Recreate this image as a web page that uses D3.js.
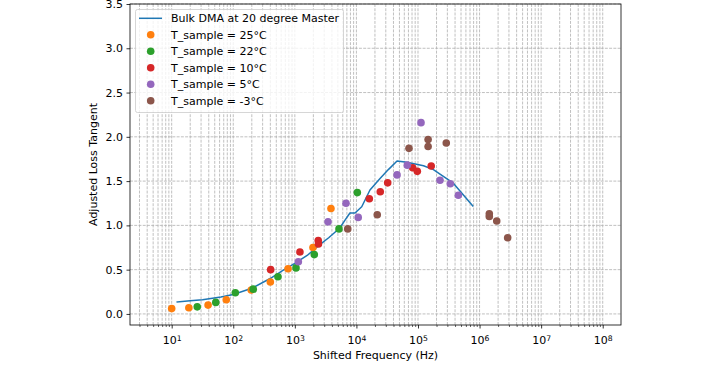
<!DOCTYPE html>
<html>
<head>
<meta charset="utf-8">
<script src="https://cdn.jsdelivr.net/npm/d3@7"></script>
<style>
  body { margin: 0; background: #fff; }
  svg { font-family: "DejaVu Sans", sans-serif; }
</style>
</head>
<body>
<div id="chart"></div>
<script>
// master curve
const masterFreq = [12.3, 20, 31.6, 63, 100, 200, 398, 631, 1000, 1585, 2512, 3548, 5370, 6530, 7850, 9480,
  12200, 16600, 24200, 33000, 45700, 66000, 123000, 178000, 251000, 375000, 776000];
const masterTan = [0.135, 0.15, 0.16, 0.19, 0.22, 0.29, 0.40, 0.49, 0.57, 0.66, 0.78, 0.86, 0.97, 1.06, 1.14, 1.14,
  1.21, 1.40, 1.53, 1.63, 1.727, 1.713, 1.674, 1.63, 1.56, 1.476, 1.22];

// measured points per sample temperature
const freq25 = [10, 19, 39, 77, 196, 400, 775, 1970, 3860];
const tan25 = [0.06, 0.07, 0.10, 0.16, 0.27, 0.36, 0.51, 0.75, 1.19];
const freq22 = [26, 52, 108, 211, 532, 1045, 2070, 5210, 10350];
const tan22 = [0.08, 0.13, 0.24, 0.28, 0.42, 0.52, 0.67, 0.96, 1.37];
const freq10 = [405, 1210, 2400, 2420, 16200, 24400, 32200, 82000, 97500, 164000];
const tan10 = [0.50, 0.70, 0.83, 0.79, 1.30, 1.38, 1.48, 1.65, 1.61, 1.67];
const freq5 = [1140, 3460, 6780, 10700, 45700, 67100, 112000, 228000, 335000, 452000];
const tan5 = [0.59, 1.04, 1.25, 1.09, 1.57, 1.68, 2.16, 1.51, 1.47, 1.34];
const freqM3 = [7230, 21800, 71400, 146000, 146000, 288000, 1440000, 1440000, 1900000, 2860000];
const tanM3 = [0.96, 1.12, 1.87, 1.97, 1.89, 1.93, 1.13, 1.10, 1.05, 0.86];

const seriesNames = ["T_sample = 25°C", "T_sample = 22°C", "T_sample = 10°C", "T_sample = 5°C", "T_sample = -3°C"];
const masterName = "Bulk DMA at 20 degree Master";
const yTicks = [0, 0.5, 1, 1.5, 2, 2.5, 3, 3.5];
const xExponents = [1, 2, 3, 4, 5, 6, 7, 8];

const colors = ["#ff7f0e", "#2ca02c", "#d62728", "#9467bd", "#8c564b"];
const series = [
  [freq25, tan25], [freq22, tan22], [freq10, tan10], [freq5, tan5], [freqM3, tanM3]
];

const W = 708, H = 370;
const mLeft = 130, mRight = 621, mTop = 4, mBottom = 325;
const fs = 11;

const svg = d3.select("#chart").append("svg")
  .attr("width", W).attr("height", H);

const x = d3.scaleLog()
  .domain([Math.pow(10, 0.323), Math.pow(10, 8.297)])
  .range([mLeft, mRight]);
const y = d3.scaleLinear()
  .domain([-0.125, 3.5])
  .range([mBottom, mTop]);

// minor tick positions (2..9 x decades) inside domain
const minorVals = [];
for (let e = 0; e <= 8; e++) {
  for (let m = 2; m <= 9; m++) {
    const v = m * Math.pow(10, e);
    if (v > x.domain()[0] && v < x.domain()[1]) minorVals.push(v);
  }
}
const majorVals = xExponents.map(e => Math.pow(10, e));

// grid
const grid = svg.append("g").attr("stroke", "#b0b0b0").attr("stroke-width", 0.8)
  .attr("stroke-dasharray", "2.96,1.28").attr("fill", "none");
grid.selectAll(".gx").data(majorVals.concat(minorVals)).enter().append("line")
  .attr("x1", d => x(d)).attr("x2", d => x(d))
  .attr("y1", mTop).attr("y2", mBottom);
grid.selectAll(".gy").data(yTicks).enter().append("line")
  .attr("x1", mLeft).attr("x2", mRight)
  .attr("y1", d => y(d)).attr("y2", d => y(d));

// master line
const line = d3.line().x((d, i) => x(masterFreq[i])).y(d => y(d));
svg.append("path")
  .datum(masterTan)
  .attr("d", line)
  .attr("fill", "none")
  .attr("stroke", "#1f77b4")
  .attr("stroke-width", 1.5)
  .attr("stroke-linejoin", "round")
  .attr("stroke-linecap", "square");

// scatter
series.forEach((s, k) => {
  svg.append("g").selectAll("circle")
    .data(s[0].map((f, i) => [f, s[1][i]]))
    .enter().append("circle")
    .attr("cx", d => x(d[0]))
    .attr("cy", d => y(d[1]))
    .attr("r", 3.8)
    .attr("fill", colors[k]);
});

// frame
svg.append("rect")
  .attr("x", mLeft).attr("y", mTop)
  .attr("width", mRight - mLeft).attr("height", mBottom - mTop)
  .attr("fill", "none").attr("stroke", "#000").attr("stroke-width", 0.8);

// axes
const xAxis = svg.append("g")
  .attr("transform", "translate(0," + mBottom + ")")
  .call(d3.axisBottom(x).tickValues(majorVals).tickSize(3.5).tickPadding(3.5).tickFormat(""));
xAxis.select(".domain").remove();
xAxis.selectAll(".tick line").attr("stroke-width", 0.8);
xAxis.selectAll(".tick text").each(function (d) {
  const t = d3.select(this)
    .attr("font-size", fs)
    .attr("font-family", "DejaVu Sans, sans-serif")
    .attr("fill", "#000")
    .attr("dy", "1.1em");
  t.append("tspan").text("10");
  t.append("tspan").attr("dy", "-0.45em").attr("font-size", 7.7)
    .text(Math.round(Math.log10(d)));
});

const xMinor = svg.append("g")
  .attr("transform", "translate(0," + mBottom + ")")
  .call(d3.axisBottom(x).tickValues(minorVals).tickSize(2).tickFormat(""));
xMinor.select(".domain").remove();
xMinor.selectAll(".tick line").attr("stroke-width", 0.6);

const yAxis = svg.append("g")
  .attr("transform", "translate(" + mLeft + ",0)")
  .call(d3.axisLeft(y).tickValues(yTicks).tickSize(3.5).tickPadding(3.5).tickFormat(d3.format(".1f")));
yAxis.select(".domain").remove();
yAxis.selectAll(".tick line").attr("stroke-width", 0.8);
yAxis.selectAll(".tick text")
  .attr("font-size", fs)
  .attr("font-family", "DejaVu Sans, sans-serif")
  .attr("fill", "#000");

// axis labels
svg.append("text")
  .attr("x", (mLeft + mRight) / 2).attr("y", 359)
  .attr("text-anchor", "middle").attr("font-size", fs)
  .text("Shifted Frequency (Hz)");
svg.append("text")
  .attr("transform", "translate(97," + ((mTop + mBottom) / 2) + ") rotate(-90)")
  .attr("text-anchor", "middle").attr("font-size", fs)
  .text("Adjusted Loss Tangent");

// legend
const lg = svg.append("g");
lg.append("rect")
  .attr("x", 135.5).attr("y", 9.5).attr("width", 208).attr("height", 103)
  .attr("rx", 2).attr("fill", "#fff").attr("fill-opacity", 0.8)
  .attr("stroke", "#cccccc").attr("stroke-width", 0.8);
const rowY = d => 18.3 + d * 16.5;
lg.append("line")
  .attr("x1", 139).attr("x2", 162).attr("y1", rowY(0)).attr("y2", rowY(0))
  .attr("stroke", "#1f77b4").attr("stroke-width", 1.5);
lg.append("text").attr("x", 171).attr("y", rowY(0)).attr("dy", "0.35em")
  .attr("font-size", fs).text(masterName);
seriesNames.forEach((n, i) => {
  lg.append("circle").attr("cx", 150.7).attr("cy", rowY(i + 1)).attr("r", 3.8).attr("fill", colors[i]);
  lg.append("text").attr("x", 171).attr("y", rowY(i + 1)).attr("dy", "0.35em")
    .attr("font-size", fs).text(n);
});
</script>
</body>
</html>
